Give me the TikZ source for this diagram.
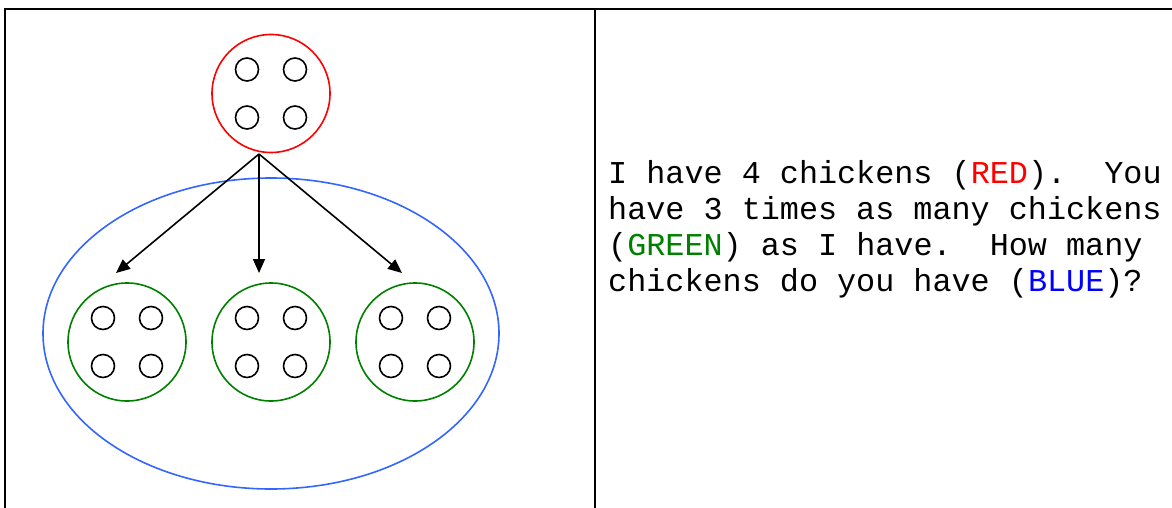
\documentclass[tikz,border=0pt]{standalone}
\usepackage{fontspec}
\setmonofont{Liberation Mono}
\usetikzlibrary{arrows.meta}
\definecolor{hengreen}{RGB}{0,128,0}
\definecolor{penblue}{RGB}{51,102,255}
\begin{document}
\begin{tikzpicture}[x=1pt,y=-1pt,
	chick/.style={circle,draw,line width=1.6pt,minimum size=23pt,inner sep=0pt},
	flock/.style={circle,draw,line width=1.6pt,minimum size=118pt,inner sep=0pt},
	times/.style={-{Triangle[length=14pt,width=12pt]},line width=1.6pt}]
	\useasboundingbox (0,0) rectangle (1172,508);
	\fill[white] (0,0) rectangle (1172,508);

	% table frame
	\draw[line width=2.6pt] (4,9) -- (1172,9);
	\draw[line width=2.6pt] (5,9) -- (5,508);
	\draw[line width=2.6pt] (595,9) -- (595,508);

	% you: blue pen round the green groups
	\draw[penblue,line width=1.6pt] (271,333.5) ellipse [x radius=228pt,y radius=155.5pt];

	% me
	\node[flock,draw=red] (mine) at (271,93.5) {};
	\foreach \dx in {-24,24}
		\foreach \dy in {-24,24}
			\node[chick] (mine\dx\dy) at ([shift={(\dx pt,\dy pt)}]mine.center) {};

	% three times as many
	\foreach \i/\cx in {1/127,2/271,3/415} {
		\node[flock,draw=hengreen] (yours\i) at (\cx,342) {};
		\foreach \dx in {-24,24}
			\foreach \dy in {-24,24}
				\node[chick] (yours\i\dx\dy) at ([shift={(\dx pt,\dy pt)}]yours\i.center) {};
	}

	\coordinate (fork) at (259,154);
	\coordinate (tip1) at (116,273);
	\coordinate (tip2) at (259,273);
	\coordinate (tip3) at (402,273);
	\foreach \i in {1,2,3}
		\draw[times] (fork) -- (tip\i);

	\node[font=\ttfamily\fontsize{31.8}{36}\selectfont,align=left,anchor=base west,inner sep=0pt] (story) at (608,291)
		{I have 4 chickens (\textcolor{red}{RED}).\ \ You\\
		have 3 times as many chickens\\
		(\textcolor{hengreen}{GREEN}) as I have.\ \ How many\\
		chickens do you have (\textcolor{blue}{BLUE})?};
\end{tikzpicture}
\end{document}
